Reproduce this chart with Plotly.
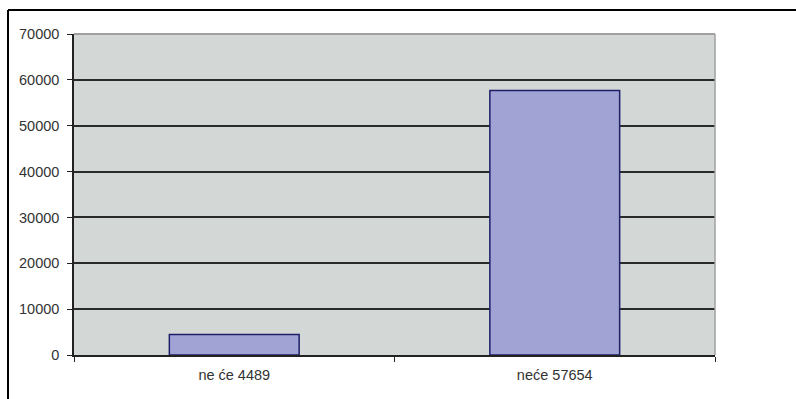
import plotly.graph_objects as go

categories = ["ne će 4489", "neće 57654"]
values = [4489, 57654]
y_ticks = [0, 10000, 20000, 30000, 40000, 50000, 60000, 70000]
y_tick_labels = ["0", "10000", "20000", "30000", "40000", "50000", "60000", "70000"]

W, H = 796, 399
L, R, T, B = 74, 81, 34, 44
pw, ph = W - L - R, H - T - B

fig = go.Figure(go.Bar(
    x=categories, y=values,
    marker=dict(color="#A0A3D3", line=dict(color="#1E1E6A", width=1.5)),
    width=0.405,
))

fnt = dict(family="Liberation Sans, Arial, sans-serif", size=14.5, color="#333333")

fig.update_layout(
    width=W, height=H,
    margin=dict(l=L, r=R, t=T, b=B, pad=0),
    paper_bgcolor="white",
    plot_bgcolor="#D3D7D5",
    showlegend=False,
    xaxis=dict(
        type="category", tickson="boundaries", ticks="outside", ticklen=5,
        tickcolor="#222222", tickwidth=1.2, showline=True, linecolor="#222222",
        linewidth=1.5, showgrid=False, tickfont=fnt, ticklabelstandoff=6,
    ),
    yaxis=dict(
        range=[0, 70000], tickvals=y_ticks, ticktext=y_tick_labels,
        ticks="outside", ticklen=5,
        tickcolor="#222222", tickwidth=1.2, showline=True, linecolor="#222222",
        linewidth=1.5, showgrid=True, gridcolor="#2A2A2A", gridwidth=1.5,
        tickfont=fnt, ticklabelstandoff=5, zeroline=False,
    ),
    shapes=[
        dict(type="line", xref="paper", yref="paper", x0=0, x1=1, y0=1, y1=1,
             line=dict(color="#A0A0A0", width=2), layer="above"),
        dict(type="line", xref="paper", yref="paper", x0=1, x1=1, y0=0, y1=1,
             line=dict(color="#A0A0A0", width=1.5), layer="above"),
        dict(type="line", xref="paper", yref="paper",
             x0=(8 - L) / pw, x1=(8 - L) / pw, y0=-(B + 5) / ph, y1=1 + (T - 10) / ph,
             line=dict(color="black", width=2)),
        dict(type="line", xref="paper", yref="paper",
             x0=(8 - L) / pw, x1=1 + (R + 5) / pw, y0=1 + (T - 10) / ph, y1=1 + (T - 10) / ph,
             line=dict(color="black", width=2)),
    ],
)

fig.write_html("out.html")
